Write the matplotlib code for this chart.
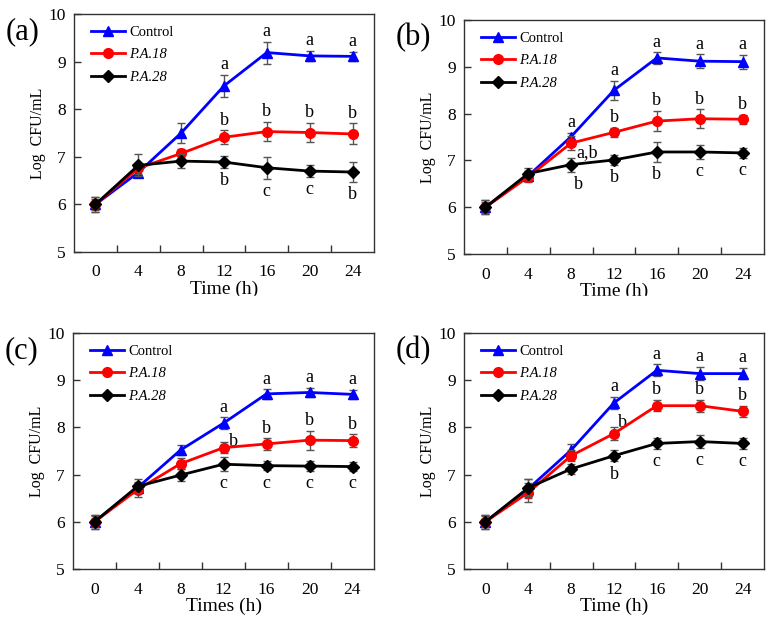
import matplotlib
matplotlib.use("Agg")
import matplotlib.pyplot as plt
from matplotlib.patches import Rectangle
import numpy as np

plt.rcParams["font.family"] = ["Liberation Serif", "DejaVu Serif"]

# ── data ─────────────────────────────────────────────────────────────────────
times = ["0", "4", "8", "12", "16", "20", "24"]
series_names = ["Control", "P.A.18", "P.A.28"]

# panel (a)
a_ctrl = [6.00, 6.67, 7.50, 8.49, 9.19, 9.12, 9.11]
a_pa18 = [6.00, 6.76, 7.07, 7.41, 7.53, 7.51, 7.48]
a_pa28 = [6.00, 6.82, 6.91, 6.89, 6.77, 6.70, 6.68]
a_ctrl_err = [0.15, 0.10, 0.20, 0.23, 0.23, 0.11, 0.10]
a_pa18_err = [0.12, 0.12, 0.10, 0.15, 0.20, 0.20, 0.22]
a_pa28_err = [0.15, 0.23, 0.14, 0.13, 0.23, 0.13, 0.21]
a_ctrl_let = ["", "", "", "a", "a", "a", "a"]
a_pa18_let = ["", "", "", "b", "b", "b", "b"]
a_pa28_let = ["", "", "", "b", "c", "c", "b"]

# panel (b)
b_ctrl = [6.00, 6.67, 7.51, 8.50, 9.19, 9.12, 9.11]
b_pa18 = [6.00, 6.65, 7.37, 7.60, 7.84, 7.89, 7.88]
b_pa28 = [6.00, 6.72, 6.91, 7.01, 7.18, 7.18, 7.16]
b_ctrl_err = [0.15, 0.10, 0.08, 0.20, 0.12, 0.15, 0.15]
b_pa18_err = [0.12, 0.12, 0.15, 0.10, 0.22, 0.20, 0.10]
b_pa28_err = [0.15, 0.12, 0.15, 0.10, 0.22, 0.15, 0.10]
b_ctrl_let = ["", "", "a", "a", "a", "a", "a"]
b_pa18_let = ["", "", "a,b", "b", "b", "b", "b"]
b_pa28_let = ["", "", "b", "b", "b", "c", "c"]

# panel (c)
c_ctrl = [6.00, 6.72, 7.52, 8.09, 8.71, 8.74, 8.70]
c_pa18 = [6.00, 6.68, 7.23, 7.57, 7.65, 7.73, 7.72]
c_pa28 = [6.00, 6.75, 6.99, 7.22, 7.19, 7.18, 7.17]
c_ctrl_err = [0.15, 0.12, 0.10, 0.12, 0.10, 0.10, 0.10]
c_pa18_err = [0.12, 0.15, 0.12, 0.12, 0.12, 0.20, 0.13]
c_pa28_err = [0.15, 0.15, 0.12, 0.15, 0.10, 0.10, 0.10]
c_ctrl_let = ["", "", "", "a", "a", "a", "a"]
c_pa18_let = ["", "", "", "b", "b", "b", "b"]
c_pa28_let = ["", "", "", "c", "c", "c", "c"]

# panel (d)
d_ctrl = [6.00, 6.70, 7.52, 8.52, 9.21, 9.14, 9.14]
d_pa18 = [6.00, 6.62, 7.40, 7.87, 8.46, 8.46, 8.34]
d_pa28 = [6.00, 6.72, 7.12, 7.40, 7.66, 7.70, 7.66]
d_ctrl_err = [0.15, 0.20, 0.13, 0.13, 0.13, 0.14, 0.12]
d_pa18_err = [0.12, 0.20, 0.12, 0.13, 0.12, 0.13, 0.12]
d_pa28_err = [0.15, 0.18, 0.10, 0.12, 0.12, 0.13, 0.12]
d_ctrl_let = ["", "", "", "a", "a", "a", "a"]
d_pa18_let = ["", "", "", "b", "b", "b", "b"]
d_pa28_let = ["", "", "", "b", "c", "c", "c"]

# ── style ────────────────────────────────────────────────────────────────────
COLORS = ["#0000ff", "#ff0000", "#000000"]
MARKERS = ["^", "o", "D"]
MSIZES = [7, 7, 6]
ERR_C = "#555555"
LET_FS = 13

# letters that do not sit straight above / below their point:
# (series, index) -> (ha, dx pt, dy pt, anchored to value?)
nudge_b = {(1, 2): ("left", 4, -10, True), (2, 2): ("center", 5, -3, False)}
nudge_c = {(1, 3): ("left", 4, 1, True)}
nudge_d = {(1, 3): ("left", 3, 5, True)}

panels = [
    # tag, pos [l, t, r, b] in px, xlabel, series, errors, letters, nudges
    ("(a)", [74, 14, 374, 252], "Time (h)",
     [a_ctrl, a_pa18, a_pa28], [a_ctrl_err, a_pa18_err, a_pa28_err],
     [a_ctrl_let, a_pa18_let, a_pa28_let], {}),
    ("(b)", [464, 20, 764, 254], "Time (h)",
     [b_ctrl, b_pa18, b_pa28], [b_ctrl_err, b_pa18_err, b_pa28_err],
     [b_ctrl_let, b_pa18_let, b_pa28_let], nudge_b),
    ("(c)", [73, 333, 374, 569], "Times (h)",
     [c_ctrl, c_pa18, c_pa28], [c_ctrl_err, c_pa18_err, c_pa28_err],
     [c_ctrl_let, c_pa18_let, c_pa28_let], nudge_c),
    ("(d)", [464, 333, 764, 569], "Time (h)",
     [d_ctrl, d_pa18, d_pa28], [d_ctrl_err, d_pa18_err, d_pa28_err],
     [d_ctrl_let, d_pa18_let, d_pa28_let], nudge_d),
]
PLACES = ["up", "up", "down"]

W, H = 772, 623
fig = plt.figure(figsize=(W / 100, H / 100), dpi=100)

for tag, (l, t, r, b), xlabel, ys, errs, lets, nudges in panels:
    ax = fig.add_axes([l / W, 1 - b / H, (r - l) / W, (b - t) / H])
    x = np.arange(len(times))
    for i, (y, e) in enumerate(zip(ys, errs)):
        ax.errorbar(x, y, yerr=e, fmt="none", ecolor=ERR_C, elinewidth=1,
                    capsize=3, capthick=1, zorder=2 + i)
        ax.plot(x, y, color=COLORS[i], marker=MARKERS[i], ms=MSIZES[i],
                lw=2, label=series_names[i], zorder=3 + i)

    # significance letters
    for i, (y, e, let) in enumerate(zip(ys, errs, lets)):
        for k, s in enumerate(let):
            if not s:
                continue
            if (i, k) in nudges:
                ha, dx, dy, on_val = nudges[(i, k)]
                if on_val:
                    ax.annotate(s, (x[k], y[k]), xytext=(dx, dy),
                                textcoords="offset points", ha=ha,
                                va="baseline", fontsize=LET_FS)
                else:
                    ax.annotate(s, (x[k], y[k] - e[k]), xytext=(dx, dy),
                                textcoords="offset points", ha=ha,
                                va="top", fontsize=LET_FS)
            elif PLACES[i] == "up":
                ax.annotate(s, (x[k], y[k] + e[k]), xytext=(0, 4),
                            textcoords="offset points", ha="center",
                            va="baseline", fontsize=LET_FS)
            else:
                ax.annotate(s, (x[k], y[k] - e[k]), xytext=(0, -3),
                            textcoords="offset points", ha="center",
                            va="top", fontsize=LET_FS)

    ax.set_xlim(-0.5, len(times) - 0.5)
    ax.set_ylim(5, 10)
    ax.set_yticks([5, 6, 7, 8, 9, 10])
    ax.set_xticks(x)
    ax.set_xticklabels(times)
    ax.set_xticks(np.arange(0.5, len(times) - 1, 1.0), minor=True)
    ax.tick_params(axis="x", which="major", length=0, labelsize=12.5, pad=9)
    ax.tick_params(axis="x", which="minor", direction="in", length=5,
                   width=1, color="#333333")
    ax.tick_params(axis="y", direction="in", length=5, width=1,
                   labelsize=12.5, color="#333333", pad=6)
    for sp in ax.spines.values():
        sp.set_color("#333333")
        sp.set_linewidth(1)
    ax.set_xlabel(xlabel, fontsize=14, labelpad=0)
    ax.set_ylabel("Log  CFU/mL", fontsize=11.5, labelpad=2)

    leg = ax.legend(loc="upper left", frameon=False, fontsize=10.5,
                    handlelength=2.3, labelspacing=0.62, borderaxespad=0,
                    borderpad=0, handletextpad=0.3,
                    bbox_to_anchor=(17 / (r - l), 1 - 12 / (b - t)))
    for txt in leg.get_texts()[1:]:
        txt.set_style("italic")

    fig.text((l - 51) / W, 1 - (t + 18) / H, tag, fontsize=22,
             ha="center", va="center")

# the top row's x-axis titles are cut off at the bottom in the original
fig.patches.append(Rectangle((0, 1 - 306 / H), 1, 10 / H,
                             transform=fig.transFigure, color="white",
                             zorder=10))

fig.savefig("out.png", dpi=100)
